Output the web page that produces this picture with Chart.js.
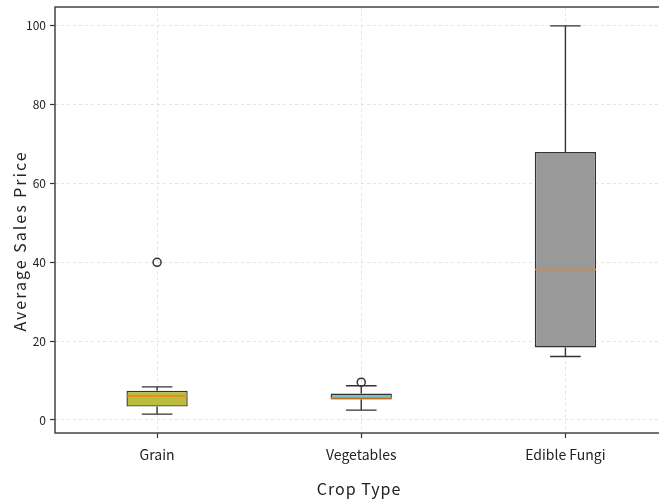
<!DOCTYPE html>
<html>
<head>
<meta charset="utf-8">
<script src="https://cdn.jsdelivr.net/npm/chart.js@4/dist/chart.umd.min.js"></script>
<style>
  html, body { margin: 0; padding: 0; background: #ffffff; overflow: hidden; width: 659px; height: 500px; }
  canvas { display: block; }
</style>
</head>
<body>
<canvas id="chart" width="673" height="500"></canvas>
<script>
// Average sales price per crop type, summarised as box plots
const categories = ['Grain', 'Vegetables', 'Edible Fungi'];
const whiskerLow = [1.5, 2.5, 16.1];
const quartile1 = [3.4, 5.2, 18.4];
const median = [6.1, 5.6, 38.2];
const quartile3 = [7.4, 6.7, 68.0];
const whiskerHigh = [8.4, 8.7, 100];
const outlierCategory = ['Grain', 'Vegetables'];
const outlierValue = [40, 9.6];
const yTicks = [0, 20, 40, 60, 80, 100];

const boxColors = ['#bcbc3c', '#76c4c8', '#999999'];
const FONT = '"Noto Sans CJK SC", "Noto Sans", sans-serif';
const INK = '#333333';

// Whiskers, caps and medians drawn from the quartile arrays via the chart scales
const boxPlotParts = {
  id: 'boxPlotParts',
  beforeDatasetsDraw(chart) {
    const { ctx, scales: { x, y } } = chart;
    const bars = chart.getDatasetMeta(0).data;
    ctx.save();
    ctx.strokeStyle = INK;
    ctx.lineWidth = 1.4;
    categories.forEach((c, i) => {
      const cx = x.getPixelForValue(i);
      const half = bars[i].width / 4;
      const yLo = y.getPixelForValue(whiskerLow[i]);
      const yQ1 = y.getPixelForValue(quartile1[i]);
      const yQ3 = y.getPixelForValue(quartile3[i]);
      const yHi = y.getPixelForValue(whiskerHigh[i]);
      ctx.beginPath();
      ctx.moveTo(cx, yQ1); ctx.lineTo(cx, yLo);
      ctx.moveTo(cx, yQ3); ctx.lineTo(cx, yHi);
      ctx.moveTo(cx - half, yLo); ctx.lineTo(cx + half, yLo);
      ctx.moveTo(cx - half, yHi); ctx.lineTo(cx + half, yHi);
      ctx.stroke();
    });
    ctx.restore();
  },
  afterDatasetsDraw(chart) {
    const { ctx, scales: { x, y } } = chart;
    const bars = chart.getDatasetMeta(0).data;
    ctx.save();
    ctx.strokeStyle = '#f0841c';
    ctx.lineWidth = 1.4;
    categories.forEach((c, i) => {
      const cx = x.getPixelForValue(i);
      const half = bars[i].width / 2;
      const ym = y.getPixelForValue(median[i]);
      ctx.beginPath();
      ctx.moveTo(cx - half, ym); ctx.lineTo(cx + half, ym);
      ctx.stroke();
    });
    ctx.restore();
  },
  afterDraw(chart) {
    const { ctx, chartArea: a } = chart;
    ctx.save();
    // axes frame
    ctx.strokeStyle = '#444444';
    ctx.lineWidth = 1.5;
    ctx.strokeRect(a.left, a.top, a.right - a.left, a.bottom - a.top);
    // axis titles
    ctx.fillStyle = '#222222';
    ctx.font = '16px ' + FONT;
    ctx.textAlign = 'center';
    ctx.textBaseline = 'middle';
    ctx.letterSpacing = '1px';
    ctx.fillText('Crop Type', 359, 489);
    ctx.translate(20, 241);
    ctx.rotate(-Math.PI / 2);
    ctx.letterSpacing = '2px';
    ctx.fillText('Average Sales Price', 0, 0);
    ctx.restore();
  }
};

new Chart(document.getElementById('chart'), {
  type: 'bar',
  data: {
    labels: categories,
    datasets: [
      {
        type: 'bar',
        data: categories.map((c, i) => [quartile1[i], quartile3[i]]),
        backgroundColor: boxColors,
        borderColor: INK,
        borderWidth: 1.4,
        borderSkipped: false,
        barPercentage: 0.3,
        categoryPercentage: 1,
        order: 2
      },
      {
        type: 'line',
        data: outlierCategory.map((c, i) => ({ x: c, y: outlierValue[i] })),
        showLine: false,
        pointStyle: 'circle',
        pointRadius: 4,
        pointBorderWidth: 1.5,
        pointBackgroundColor: 'rgba(255,255,255,0)',
        pointBorderColor: INK,
        order: 1
      }
    ]
  },
  options: {
    responsive: false,
    animation: false,
    layout: { padding: { top: 7, left: 0, right: 0, bottom: 0 } },
    plugins: { legend: { display: false }, tooltip: { enabled: false } },
    scales: {
      x: {
        type: 'category',
        offset: true,
        grid: {
          offset: false,
          color: '#dedede',
          lineWidth: 0.8,
          tickColor: INK,
          tickLength: 5,
          tickWidth: 1.2,
          tickBorderDash: []
        },
        border: { display: false, dash: [3, 3] },
        ticks: {
          color: '#222222',
          font: { family: FONT, size: 14 },
          padding: 8,
          maxRotation: 0
        },
        afterFit(scale) {
          scale.height = 67;
          scale.paddingLeft = 0;
          scale.paddingRight = 0;
        }
      },
      y: {
        min: -3.3,
        max: 104.8,
        afterBuildTicks(scale) { scale.ticks = yTicks.map(v => ({ value: v })); },
        grid: {
          color: '#dedede',
          lineWidth: 0.8,
          tickColor: INK,
          tickLength: 5,
          tickWidth: 1.2,
          tickBorderDash: []
        },
        border: { display: false, dash: [3, 3] },
        ticks: {
          color: '#222222',
          font: { family: FONT, size: 12 },
          padding: 4
        },
        afterFit(scale) {
          scale.width = 55;
          scale.paddingTop = 0;
          scale.paddingBottom = 0;
        }
      }
    }
  },
  plugins: [boxPlotParts]
});
</script>
</body>
</html>
